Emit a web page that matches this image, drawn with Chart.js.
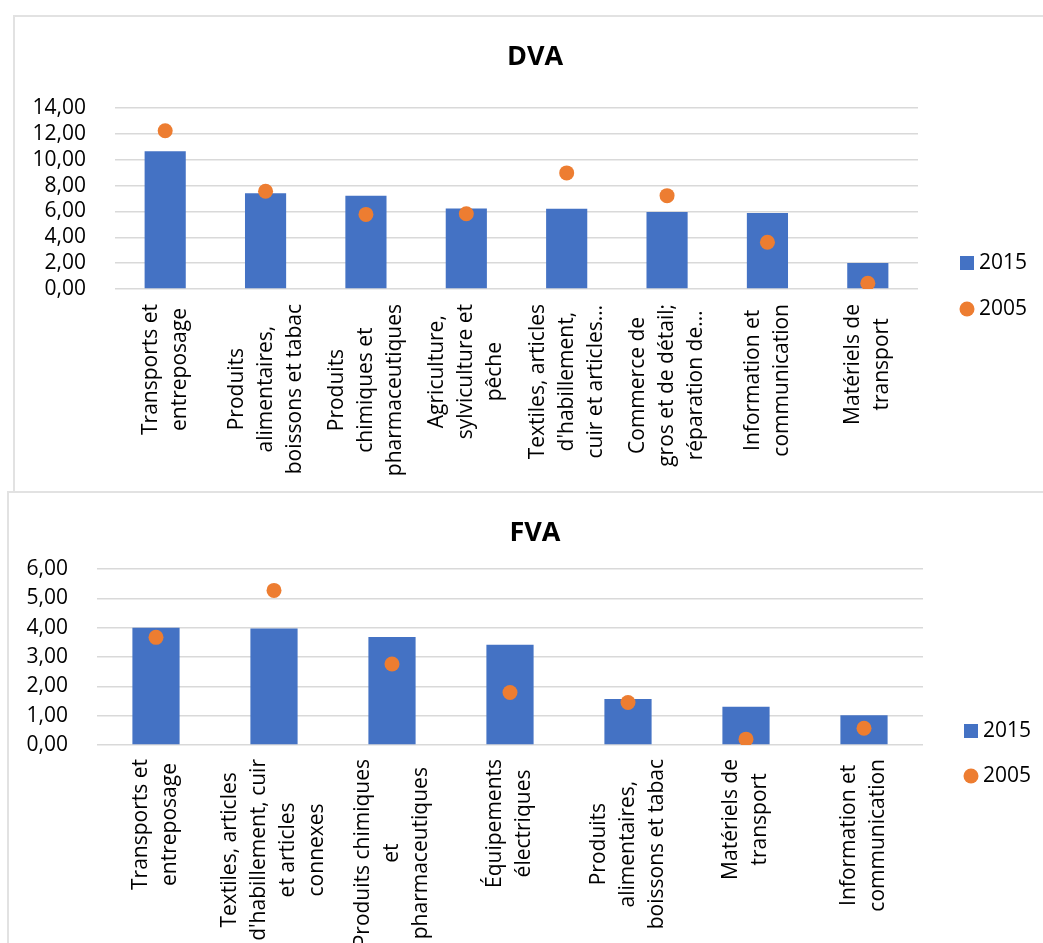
<!DOCTYPE html>
<html>
<head>
<meta charset="utf-8">
<script src="https://cdn.jsdelivr.net/npm/chart.js@4.4.1/dist/chart.umd.min.js"></script>
<style>
  html, body { margin: 0; padding: 0; background: #ffffff; }
  body { width: 1043px; height: 943px; position: relative; overflow: hidden; }
  .frame { position: absolute; border: 2px solid #e2e2e2; box-sizing: border-box; background: #ffffff; }
  #frameTop { left: 13px; top: 15px; width: 1100px; height: 479px; }
  #frameBottom { left: 7px; top: 491px; width: 1100px; height: 520px; }
  canvas { position: absolute; left: 0; }
  #dva { top: 0; }
  #fva { top: 492px; }
</style>
</head>
<body>
<div class="frame" id="frameTop"></div>
<div class="frame" id="frameBottom"></div>
<canvas id="dva" width="1043" height="492"></canvas>
<canvas id="fva" width="1043" height="451"></canvas>
<script>
// ---- DVA ----
const dvaCategories = [
  ["Transports et", "entreposage"],
  ["Produits", "alimentaires,", "boissons et tabac"],
  ["Produits", "chimiques et", "pharmaceutiques"],
  ["Agriculture,", "sylviculture et", "pêche"],
  ["Textiles, articles", "d'habillement,", "cuir et articles…"],
  ["Commerce de", "gros et de détail;", "réparation de…"],
  ["Information et", "communication"],
  ["Matériels de", "transport"]
];
const dva2015 = [10.66, 7.40, 7.22, 6.23, 6.21, 5.95, 5.88, 2.02];
const dva2005 = [12.24, 7.56, 5.77, 5.82, 8.98, 7.22, 3.62, 0.44];
const dvaAxis = { min: 0, max: 14, step: 2 };

// ---- FVA ----
const fvaCategories = [
  ["Transports et", "entreposage"],
  ["Textiles, articles", "d'habillement, cuir", "et articles", "connexes"],
  ["Produits chimiques", "et", "pharmaceutiques"],
  ["Équipements", "électriques"],
  ["Produits", "alimentaires,", "boissons et tabac"],
  ["Matériels de", "transport"],
  ["Information et", "communication"]
];
const fva2015 = [4.00, 3.97, 3.68, 3.42, 1.57, 1.30, 1.01];
const fva2005 = [3.67, 5.27, 2.76, 1.79, 1.45, 0.20, 0.57];
const fvaAxis = { min: 0, max: 6, step: 1 };

const seriesNames = ["2015", "2005"];

const BLUE = "#4472C4";
const ORANGE = "#ED7D31";
const FONT = "'Open Sans', sans-serif";

// Draws the chart title, the rotated multi-line category labels and the legend.
const decorations = {
  id: "decorations",
  afterDraw(chart, args, opts) {
    const ctx = chart.ctx;
    const xScale = chart.scales.x;
    ctx.save();
    ctx.fillStyle = "#000000";

    // title
    ctx.font = "bold 27px " + FONT;
    ctx.textAlign = "center";
    ctx.textBaseline = "middle";
    ctx.fillText(opts.title, opts.titleX, opts.titleY);

    // category labels, rotated, lines centred on each other
    ctx.font = "21px " + FONT;
    const labels = chart.data.labels;
    const top = chart.chartArea.bottom + opts.labelGap;
    labels.forEach((lines, i) => {
      const x = xScale.getPixelForValue(i);
      const widest = Math.max(...lines.map(l => ctx.measureText(l).width));
      ctx.save();
      ctx.translate(x, top + widest / 2);
      ctx.rotate(-Math.PI / 2);
      ctx.textAlign = "center";
      ctx.textBaseline = "middle";
      lines.forEach((line, k) => {
        ctx.fillText(line, 0, (k - (lines.length - 1) / 2) * opts.lineHeight);
      });
      ctx.restore();
    });

    // legend
    const ds = chart.data.datasets;
    ctx.textAlign = "left";
    ctx.textBaseline = "middle";
    ctx.fillStyle = ds[0].backgroundColor;
    ctx.fillRect(opts.legendX, opts.legendY1 - 7, 14, 14);
    ctx.beginPath();
    ctx.fillStyle = ds[1].pointBackgroundColor;
    ctx.arc(opts.legendX + 7, opts.legendY2, 7.5, 0, Math.PI * 2);
    ctx.fill();
    ctx.fillStyle = "#000000";
    ctx.fillText(ds[0].label, opts.legendX + 19, opts.legendY1);
    ctx.fillText(ds[1].label, opts.legendX + 19, opts.legendY2);
    ctx.restore();
  }
};

function commaFixed(v) {
  return Number(v).toFixed(2).replace(".", ",");
}

function makeChart(canvasId, labels, bars, dots, axis, geo) {
  return new Chart(document.getElementById(canvasId), {
    data: {
      labels: labels,
      datasets: [
        {
          type: "bar",
          label: seriesNames[0],
          data: bars,
          backgroundColor: BLUE,
          borderWidth: 0,
          barPercentage: geo.barPct,
          categoryPercentage: 1.0,
          order: 1
        },
        {
          type: "line",
          label: seriesNames[1],
          data: dots,
          showLine: false,
          pointRadius: 7.5,
          pointHoverRadius: 7.5,
          pointBorderWidth: 0,
          pointBackgroundColor: ORANGE,
          borderColor: ORANGE,
          order: 0
        }
      ]
    },
    options: {
      responsive: false,
      animation: false,
      devicePixelRatio: 1,
      font: { family: FONT, size: 21 },
      layout: { padding: { top: geo.top, right: geo.right, bottom: 0, left: 0 } },
      plugins: {
        legend: { display: false },
        title: { display: false },
        tooltip: { enabled: false },
        decorations: {
          title: geo.title,
          titleX: geo.titleX,
          titleY: geo.titleY,
          labelGap: geo.labelGap,
          lineHeight: 29,
          legendX: geo.legendX,
          legendY1: geo.legendY1,
          legendY2: geo.legendY2
        }
      },
      scales: {
        x: {
          type: "category",
          offset: true,
          grid: { display: false },
          border: { display: false },
          ticks: { display: false },
          afterFit(scale) { scale.height = geo.xHeight; }
        },
        y: {
          min: axis.min,
          max: axis.max,
          grid: { color: "#d9d9d9", lineWidth: 1.5, drawTicks: false },
          border: { display: false },
          ticks: {
            stepSize: axis.step,
            autoSkip: false,
            padding: 29,
            color: "#000000",
            font: { family: FONT, size: 21 },
            callback: (v) => commaFixed(v)
          },
          afterFit(scale) { scale.width = geo.yWidth; }
        }
      }
    },
    plugins: [decorations]
  });
}

makeChart("dva", dvaCategories, dva2015, dva2005, dvaAxis, {
  top: 108, right: 125, xHeight: 203, yWidth: 115, barPct: 0.41,
  title: "DVA", titleX: 535, titleY: 57, labelGap: 15,
  legendX: 960, legendY1: 263, legendY2: 309
});

makeChart("fva", fvaCategories, fva2015, fva2005, fvaAxis, {
  top: 77, right: 120, xHeight: 198, yWidth: 97, barPct: 0.40,
  title: "FVA", titleX: 535, titleY: 41, labelGap: 14,
  legendX: 964, legendY1: 239, legendY2: 284
});
</script>
</body>
</html>
